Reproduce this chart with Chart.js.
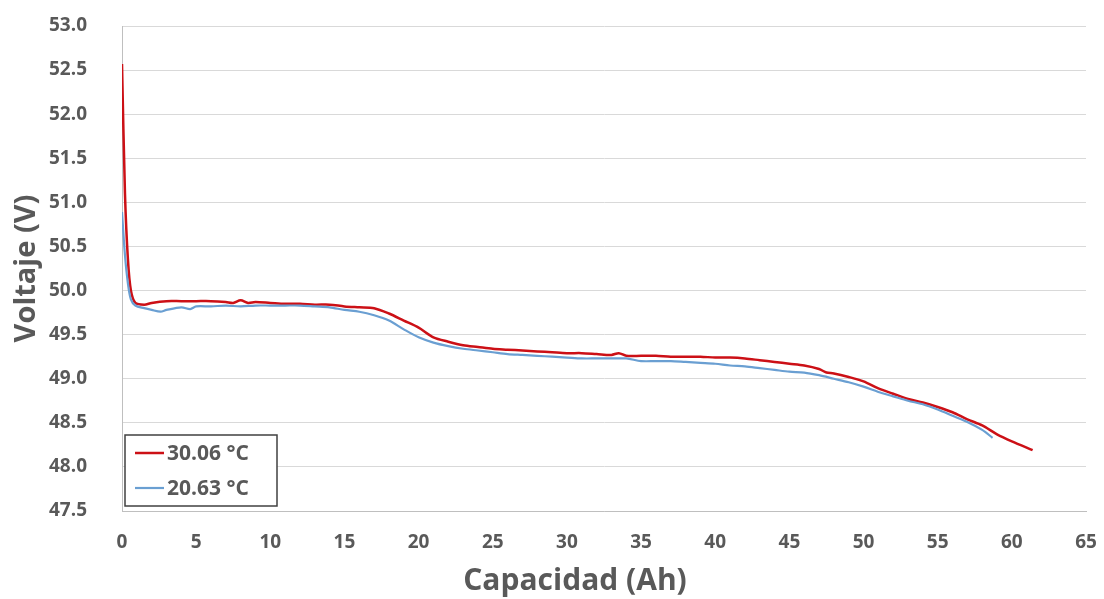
<!DOCTYPE html>
<html>
<head>
<meta charset="utf-8">
<title>Voltaje vs Capacidad</title>
<script src="https://cdn.jsdelivr.net/npm/chart.js@4.4.1/dist/chart.umd.min.js"></script>
<style>
  html, body { margin: 0; padding: 0; background: #fff; }
  #wrap { width: 1104px; height: 599px; position: relative; }
</style>
</head>
<body>
<div id="wrap"><canvas id="chart"></canvas></div>
<script>
// Data
const labelRed = '30.06 °C';
const capRed = [0, 0.2, 0.4, 0.6, 0.9, 1.5, 2, 3, 4, 5, 6, 7, 7.5, 8, 8.5, 9, 10, 11, 12, 13, 14,
  15, 16, 17, 18, 19, 20, 21, 22, 23, 24, 25, 26, 27, 28, 29, 30, 31, 32, 33, 33.5, 34, 35, 36,
  37, 38, 39, 40, 41, 42, 43, 44, 45, 46, 47, 47.5, 48, 49, 50, 51, 52, 53, 54, 55, 56, 57, 58,
  59, 60, 61.4];
const voltRed = [52.57, 51.1, 50.35, 50.0, 49.86, 49.84, 49.86, 49.88, 49.88, 49.88, 49.88, 49.87,
  49.86, 49.89, 49.86, 49.87, 49.86, 49.85, 49.85, 49.84, 49.84, 49.82, 49.81, 49.80, 49.74, 49.66,
  49.58, 49.47, 49.42, 49.38, 49.36, 49.34, 49.33, 49.32, 49.31, 49.30, 49.29, 49.29, 49.28, 49.27,
  49.29, 49.26, 49.26, 49.26, 49.25, 49.25, 49.25, 49.24, 49.24, 49.23, 49.21, 49.19, 49.17, 49.15,
  49.11, 49.07, 49.06, 49.02, 48.97, 48.89, 48.83, 48.77, 48.73, 48.68, 48.62, 48.54, 48.47, 48.37,
  48.29, 48.19];

const labelBlue = '20.63 °C';
const capBlue = [0, 0.2, 0.4, 0.6, 0.9, 1.5, 2, 2.6, 3, 4, 4.6, 5, 6, 7, 8, 9, 10, 11, 12, 13, 14,
  15, 16, 17, 18, 19, 20, 21, 22, 23, 24, 25, 26, 27, 28, 29, 30, 31, 32, 33, 34, 35, 36, 37, 38,
  39, 40, 41, 42, 43, 44, 45, 46, 47, 48, 49, 50, 51, 52, 53, 54, 55, 56, 57, 58, 58.7];
const voltBlue = [50.89, 50.4, 50.08, 49.9, 49.83, 49.80, 49.78, 49.76, 49.78, 49.81, 49.79, 49.82,
  49.82, 49.83, 49.82, 49.83, 49.83, 49.83, 49.83, 49.82, 49.81, 49.78, 49.76, 49.72, 49.66, 49.56,
  49.47, 49.41, 49.37, 49.34, 49.32, 49.30, 49.28, 49.27, 49.26, 49.25, 49.24, 49.23, 49.23, 49.23,
  49.23, 49.20, 49.20, 49.20, 49.19, 49.18, 49.17, 49.15, 49.14, 49.12, 49.10, 49.08, 49.07, 49.04,
  49.00, 48.96, 48.91, 48.85, 48.80, 48.75, 48.71, 48.65, 48.58, 48.51, 48.42, 48.33];

const xTicks = [0, 5, 10, 15, 20, 25, 30, 35, 40, 45, 50, 55, 60, 65];
const yTicks = [47.5, 48.0, 48.5, 49.0, 49.5, 50.0, 50.5, 51.0, 51.5, 52.0, 52.5, 53.0];
const xTitle = 'Capacidad (Ah)';
const yTitle = 'Voltaje (V)';

const toPoints = (xs, ys) => xs.map((x, i) => ({ x: x, y: ys[i] }));

const FONT = "'Open Sans', 'DejaVu Sans', sans-serif";
const TEXT = '#595959';

// legend box inside the plot (bottom-left) and the x title, which sits left of centre
const boxLegend = {
  id: 'boxLegend',
  afterDraw(chart) {
    const { ctx, chartArea } = chart;
    const x0 = chartArea.left + 3, y1 = chartArea.bottom - 5;
    const w = 152, h = 71;
    const y0 = y1 - h;
    ctx.save();
    ctx.fillStyle = '#fff';
    ctx.fillRect(x0, y0, w, h);
    ctx.strokeStyle = '#404040';
    ctx.lineWidth = 1.5;
    ctx.strokeRect(x0, y0, w, h);
    ctx.font = 'bold 21px ' + FONT;
    ctx.textBaseline = 'middle';
    ctx.fillStyle = TEXT;
    const items = [chart.data.datasets[0], chart.data.datasets[1]];
    items.forEach((ds, i) => {
      const cy = y0 + 18 + i * 35;
      ctx.strokeStyle = ds.borderColor;
      ctx.lineWidth = ds.borderWidth;
      ctx.beginPath();
      ctx.moveTo(x0 + 10, cy);
      ctx.lineTo(x0 + 39, cy);
      ctx.stroke();
      ctx.fillText(ds.label, x0 + 42, cy + 1);
    });

    ctx.font = 'bold 30px ' + FONT;
    ctx.textAlign = 'center';
    ctx.fillText(xTitle, 575, 581);
    ctx.restore();
  }
};

new Chart(document.getElementById('chart'), {
  type: 'line',
  data: {
    datasets: [
      {
        label: labelRed,
        data: toPoints(capRed, voltRed),
        borderColor: '#cc1016',
        borderWidth: 2.5,
        pointRadius: 0,
        tension: 0.3,
        order: 1
      },
      {
        label: labelBlue,
        data: toPoints(capBlue, voltBlue),
        borderColor: '#6a9fd2',
        borderWidth: 2.2,
        pointRadius: 0,
        tension: 0.3,
        order: 0
      }
    ]
  },
  options: {
    responsive: true,
    maintainAspectRatio: false,
    animation: false,
    layout: { padding: { top: 26, right: 18, bottom: 0, left: 0 } },
    plugins: {
      legend: { display: false },
      tooltip: { enabled: false }
    },
    scales: {
      x: {
        type: 'linear',
        min: 0,
        max: 65,
        afterBuildTicks: s => { s.ticks = xTicks.map(v => ({ value: v })); },
        afterFit: s => { s.height = 88; s.paddingLeft = 0; s.paddingRight = 0; },
        grid: { display: false, drawTicks: false },
        border: { color: '#bfbfbf', width: 1 },
        ticks: {
          color: TEXT,
          padding: 20,
          maxRotation: 0,
          font: { family: FONT, size: 19, weight: 'bold' }
        },
        title: { display: false }
      },
      y: {
        min: 47.5,
        max: 53,
        afterBuildTicks: s => { s.ticks = yTicks.map(v => ({ value: v })); },
        afterFit: s => { s.width = 122; s.paddingTop = 0; s.paddingBottom = 0; },
        grid: { color: '#d9d9d9', lineWidth: 1, drawTicks: false },
        border: { color: '#bfbfbf', width: 1 },
        ticks: {
          color: TEXT,
          padding: 35,
          callback: v => Number(v).toFixed(1),
          font: { family: FONT, size: 19, weight: 'bold' }
        },
        title: {
          display: true,
          text: yTitle,
          color: TEXT,
          padding: { top: 9, bottom: 0 },
          font: { family: FONT, size: 29, weight: 'bold' }
        }
      }
    }
  },
  plugins: [boxLegend]
});
</script>
</body>
</html>
